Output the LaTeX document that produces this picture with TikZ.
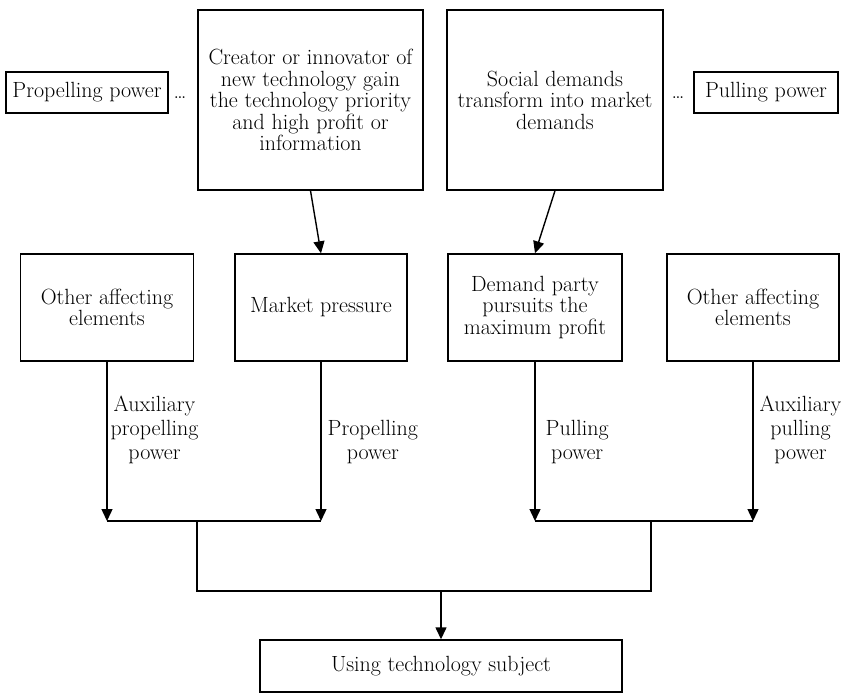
\documentclass[tikz,border=0pt]{standalone}
\usepackage{tikz}
\usetikzlibrary{arrows.meta,positioning}

\tikzset{
  box/.style={draw,line width=1.4pt,align=center,inner sep=0pt,font=\fontsize{22}{21.5}\selectfont},
  lbl/.style={align=center,inner sep=2pt,font=\fontsize{22}{24}\selectfont},
  ellip/.style={inner sep=0pt,anchor=base,font=\fontsize{22}{22}\selectfont},
  link/.style={line width=1.4pt,-{Triangle[length=12pt,width=11pt]}},
  wire/.style={line width=1.4pt},
}

\begin{document}
\begin{tikzpicture}[x=1pt,y=-1pt]
  \useasboundingbox (0,0) rectangle (843,694);
  % top row
  \node[box,minimum width=162,minimum height=41] (prop) at (87,92.5) {Propelling power};
  \node[ellip] (dotsl) at (180,98) {\dots};
  \node[box,minimum width=225,minimum height=180] (creator) at (310.5,100) {Creator or innovator of\\new technology gain\\the technology priority\\and high profit or\\information};
  \node[box,minimum width=216,minimum height=180] (social) at (555,100) {Social demands\\transform into market\\demands};
  \node[ellip] (dotsr) at (678,98) {\dots};
  \node[box,minimum width=144,minimum height=41] (pull) at (766,92.5) {Pulling power};
  % middle row
  \node[box,minimum width=173,minimum height=107] (other1) at (107,307.5) {Other affecting\\elements};
  \node[box,minimum width=172,minimum height=107] (market) at (321,307.5) {Market pressure};
  \node[box,minimum width=174,minimum height=107] (demand) at (535,307.5) {Demand party\\pursuits the\\maximum profit};
  \node[box,minimum width=172,minimum height=107] (other2) at (753,307.5) {Other affecting\\elements};
  % bottom
  \node[box,minimum width=362,minimum height=52] (using) at (441,666) {Using technology subject};
  \foreach \n/\x in {j1/107,j2/321,j3/535,j4/753,k1/197,k2/651} \coordinate (\n) at (\x,521);
  \coordinate (m) at (441,591);

  \draw[link] (creator.south) -- (market.north);
  \draw[link] (social.south) -- (demand.north);

  \draw[link] (other1.south) -- node[lbl,pos=0.66,anchor=south west,xshift=1pt] {Auxiliary\\propelling\\power} (j1);
  \draw[link] (market.south) -- node[lbl,pos=0.66,anchor=south west,xshift=4pt] {Propelling\\power} (j2);
  \draw[link] (demand.south) -- node[lbl,pos=0.66,anchor=south west,xshift=8pt] {Pulling\\power} (j3);
  \draw[link] (other2.south) -- node[lbl,pos=0.66,anchor=south west,xshift=4pt] {Auxiliary\\pulling\\power} (j4);

  \draw[wire] (j1) -- (j2);
  \draw[wire] (j3) -- (j4);
  \draw[wire] (k1) -- (k1 |- m) -- (k2 |- m) -- (k2);
  \draw[link] (m) -- (using.north);
\end{tikzpicture}
\end{document}
